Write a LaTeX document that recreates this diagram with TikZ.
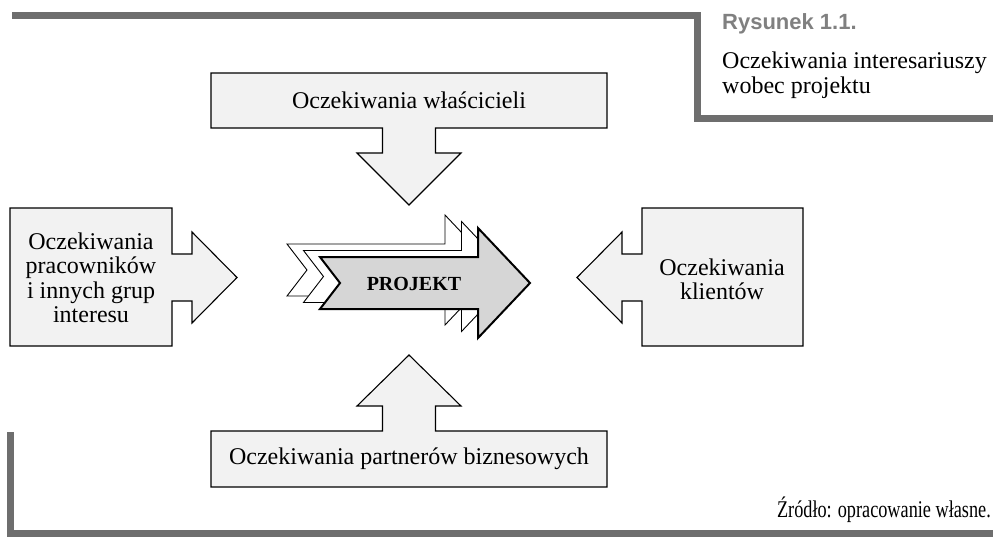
\documentclass[tikz,border=0pt]{standalone}
\usepackage{fontspec}
\usepackage{graphicx}
\setmainfont{Liberation Serif}
\newfontfamily\capfont{Liberation Sans}
\definecolor{boxfill}{HTML}{F2F2F2}
\definecolor{projfill}{HTML}{D6D6D6}
\definecolor{framegray}{HTML}{6E6E6E}
\definecolor{capgray}{HTML}{808080}
\begin{document}
\begin{tikzpicture}[x=1pt,y=-1pt,
  shapebox/.style={fill=boxfill, draw=black, line width=1.1pt, line join=miter},
  backarrow/.style={fill=white, draw=black, line width=0.9pt, line join=miter},
  frontarrow/.style={fill=projfill, draw=black, line width=2pt, line join=miter},
  framestroke/.style={draw=framegray, line width=7pt, line join=miter},
  lbl/.style={font=\fontsize{24}{24.5}\selectfont, align=center, inner sep=0pt},
  caplbl/.style={font=\fontsize{24}{25}\selectfont, align=left, inner sep=0pt}]
\useasboundingbox (0,0) rectangle (993,536);

% frame lines
\draw[framestroke] (12,15.5) -- (697,15.5) -- (697,118) -- (1000,118);
\draw[framestroke] (10,432) -- (10,533.5) -- (1000,533.5);

% top box with down arrow
\draw[shapebox] (211,73) -- (607,73) -- (607,128) -- (435.5,128) -- (435.5,153)
  -- (461,153) -- (409,205) -- (357,153) -- (382.5,153) -- (382.5,128)
  -- (211,128) -- cycle;
% bottom box with up arrow
\draw[shapebox] (211,487) -- (607,487) -- (607,431) -- (435.5,431) -- (435.5,406)
  -- (461,406) -- (409,355) -- (357,406) -- (382.5,406) -- (382.5,431)
  -- (211,431) -- cycle;
% left box with right arrow
\draw[shapebox] (10,208) -- (172,208) -- (172,254) -- (192,254) -- (192,232)
  -- (237,277.5) -- (192,323) -- (192,301) -- (172,301) -- (172,346)
  -- (10,346) -- cycle;
% right box with left arrow
\draw[shapebox] (803,208) -- (642,208) -- (642,254) -- (622,254) -- (622,232)
  -- (577,277.5) -- (622,323) -- (622,301) -- (642,301) -- (642,346)
  -- (803,346) -- cycle;

% central stacked arrows
\foreach \dx/\dy in {-33/-13,-16.5/-6.5}{
  \draw[backarrow, shift={(\dx,\dy)}] (320,257) -- (478,257) -- (478,228)
    -- (530,283) -- (478,338) -- (478,309) -- (320,309) -- (340,283) -- cycle;
}
\draw[frontarrow] (320,257) -- (478,257) -- (478,228)
  -- (530,283) -- (478,338) -- (478,309) -- (320,309) -- (340,283) -- cycle;

% labels
\node[lbl] (own) at (409,100.5) {Oczekiwania właścicieli};
\node[lbl] (partners) at (409,459) {Oczekiwania partnerów biznesowych};
\node[lbl] (staff) at (91,278) {Oczekiwania\\pracowników\\i innych grup\\interesu};
\node[lbl] (clients) at (722,279.5) {Oczekiwania\\klientów};
\node[inner sep=0pt, font=\fontsize{20}{20}\selectfont\bfseries] (proj) at (414,284) {PROJEKT};

% caption
\node[anchor=west, inner sep=0pt, text=capgray, font=\capfont\bfseries\fontsize{22}{22}\selectfont] (fig) at (722,24) {Rysunek 1.1.};
\node[caplbl, anchor=north west] (title) at (722,52) {Oczekiwania interesariuszy\\wobec projektu};

% source
\node[anchor=base east, inner sep=0pt, font=\fontsize{24}{24}\selectfont] (src) at (991,517) {\scalebox{0.76}[1]{Źródło: opracowanie własne.}};
\end{tikzpicture}
\end{document}
